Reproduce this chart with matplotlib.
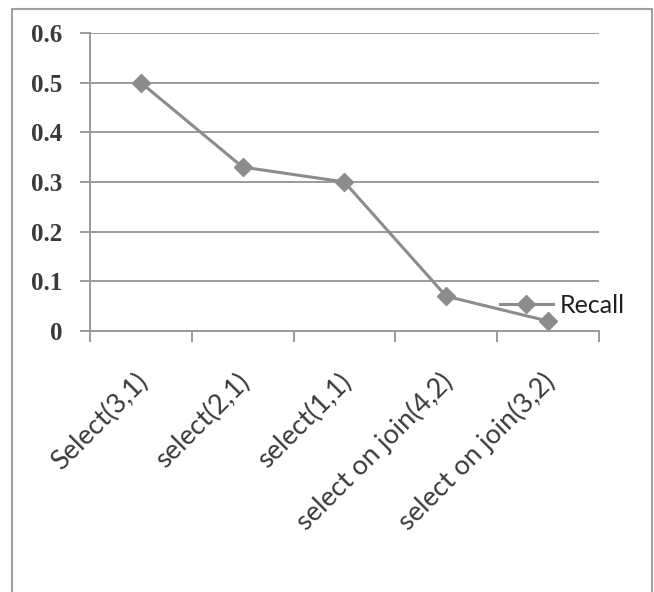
import numpy as np
import matplotlib.pyplot as plt
from matplotlib.patches import Rectangle
from matplotlib.transforms import ScaledTranslation

categories = ["Select(3,1)", "select(2,1)", "select(1,1)",
              "select on join(4,2)", "select on join(3,2)"]
recall = [0.5, 0.33, 0.3, 0.07, 0.02]
y_ticks = [0, 0.1, 0.2, 0.3, 0.4, 0.5, 0.6]
y_labels = ["0", "0.1", "0.2", "0.3", "0.4", "0.5", "0.6"]

line_color = "#8c8c8c"
grid_color = "#9a9a9a"
text_color = "#3a3a3a"

fig = plt.figure(figsize=(6.54, 5.92), dpi=100)
ax = fig.add_axes([0.1376, 0.4409, 0.778, 0.5034])

# outer chart border, its bottom edge falls below the figure
fig.patches.append(Rectangle((12 / 654, -0.05), (652 - 12) / 654, 1.05 - 9 / 592,
                             transform=fig.transFigure, fill=False,
                             edgecolor="#a0a0a0", linewidth=1.5))

x = np.arange(len(categories))
ax.plot(x, recall, color=line_color, linewidth=2.2, marker="D",
        markersize=9, markerfacecolor=line_color, markeredgecolor=line_color,
        label="Recall", zorder=3)

ax.set_xlim(-0.5, len(categories) - 0.5)
ax.set_ylim(0, 0.6)

ax.set_yticks(y_ticks)
ax.set_yticklabels(y_labels, family="Liberation Serif", fontsize=18,
                   color=text_color, fontweight="bold")
ax.yaxis.grid(True, color=grid_color, linewidth=1.4)
ax.set_axisbelow(True)
ax.tick_params(axis="y", length=7, width=1.4, color=grid_color, pad=13)

# category labels on major ticks, boundary ticks as minor ticks
ax.set_xticks(x)
ax.set_xticklabels(categories, rotation=45, ha="right", va="center",
                   rotation_mode="anchor", family="Lato", fontsize=19.5,
                   color=text_color)
ax.set_xticks(np.arange(-0.5, len(categories)), minor=True)
ax.tick_params(axis="x", which="major", length=0, pad=0)
ax.tick_params(axis="x", which="minor", length=8, width=1.4, color=grid_color)
for lbl in ax.get_xticklabels():
    lbl.set_transform(lbl.get_transform()
                      + ScaledTranslation(0.03, -0.47, fig.dpi_scale_trans))

for side in ("top", "right"):
    ax.spines[side].set_visible(False)
for side in ("left", "bottom"):
    ax.spines[side].set_color(grid_color)
    ax.spines[side].set_linewidth(1.4)

leg = ax.legend(loc="center left", bbox_to_anchor=(0.806, 0.087),
                frameon=False, borderpad=0, borderaxespad=0,
                handlelength=2.1, handletextpad=0.3,
                prop={"family": "Lato", "size": 18})
for t in leg.get_texts():
    t.set_color("#202020")

fig.savefig("out.png", dpi=100)
